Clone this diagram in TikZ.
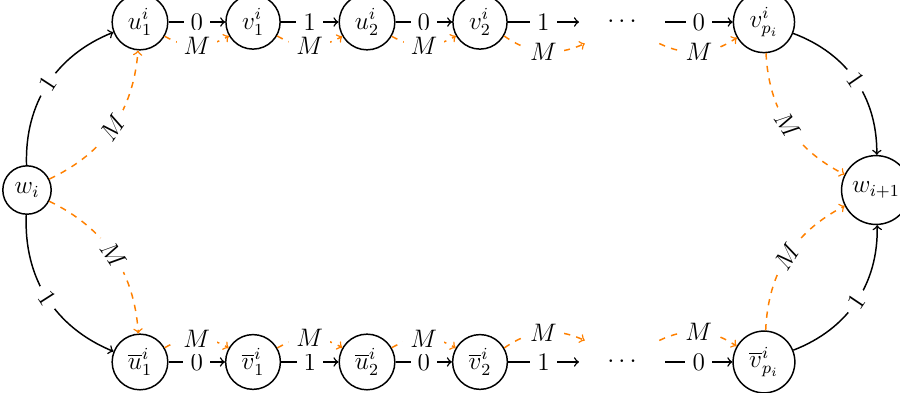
\documentclass[tikz,border=0pt]{standalone}
\begin{document}
\begin{tikzpicture}[
  font=\fontsize{11.5}{14}\selectfont,
  vtx/.style={circle,draw,line width=0.7pt},
  dotsnode/.style={circle,minimum size=1.42cm,inner sep=0pt},
  edge/.style={line width=0.7pt,->},
  mdash/.style={line width=0.7pt,->,orange,dashed},
  lab/.style={fill=white,text=black},
]
\useasboundingbox (0,0) rectangle (15,6.55);
% top row
\node[vtx] (wi) at (0.45,3.383) {$w_i$};
\node[vtx] (wn) at (14.6,3.383) {$w_{i+1}$};
\node[vtx] (u1) at (2.333,6.183) {$u_1^i$};
\node[vtx] (v1) at (4.217,6.183) {$v_1^i$};
\node[vtx] (u2) at (6.117,6.183) {$u_2^i$};
\node[vtx] (v2) at (8.0,6.183) {$v_2^i$};
\node[dotsnode] (dt) at (10.367,6.183) {$\cdots$};
\node[vtx] (vp) at (12.733,6.183) {$v_{p_i}^i$};
% bottom row
\node[vtx] (bu1) at (2.333,0.517) {$\overline{u}_1^i$};
\node[vtx] (bv1) at (4.217,0.517) {$\overline{v}_1^i$};
\node[vtx] (bu2) at (6.117,0.517) {$\overline{u}_2^i$};
\node[vtx] (bv2) at (8.0,0.517) {$\overline{v}_2^i$};
\node[dotsnode] (db) at (10.367,0.517) {$\cdots$};
\node[vtx] (bvp) at (12.733,0.517) {$\overline{v}_{p_i}^i$};
% solid edges
\draw[edge] (u1) -- node[lab]{$0$} (v1);
\draw[edge] (v1) -- node[lab]{$1$} (u2);
\draw[edge] (u2) -- node[lab]{$0$} (v2);
\draw[edge] (v2) -- node[lab]{$1$} (dt);
\draw[edge] (dt) -- node[lab]{$0$} (vp);
\draw[edge] (bu1) -- node[lab]{$0$} (bv1);
\draw[edge] (bv1) -- node[lab]{$1$} (bu2);
\draw[edge] (bu2) -- node[lab]{$0$} (bv2);
\draw[edge] (bv2) -- node[lab]{$1$} (db);
\draw[edge] (db) -- node[lab]{$0$} (bvp);
\draw[edge] (wi) to[bend left=35] node[lab,sloped]{$1$} (u1);
\draw[edge] (wi) to[bend right=35] node[lab,sloped]{$1$} (bu1);
\draw[edge] (vp) to[bend left=35] node[lab,sloped]{$1$} (wn);
\draw[edge] (bvp) to[bend right=35] node[lab,sloped]{$1$} (wn);
% dashed edges
\draw[mdash] (wi) to[bend right=30] node[lab,sloped]{$M$} (u1);
\draw[mdash] (wi) to[bend left=30] node[lab,sloped]{$M$} (bu1);
\draw[mdash] (vp) to[bend right=30] node[lab,sloped]{$M$} (wn);
\draw[mdash] (bvp) to[bend left=30] node[lab,sloped]{$M$} (wn);
\draw[mdash] (u1) to[bend right=30] node[lab]{$M$} (v1);
\draw[mdash] (v1) to[bend right=30] node[lab]{$M$} (u2);
\draw[mdash] (u2) to[bend right=30] node[lab]{$M$} (v2);
\draw[mdash] (v2) to[bend right=30] node[lab]{$M$} (dt);
\draw[mdash] (dt) to[bend right=30] node[lab]{$M$} (vp);
\draw[mdash] (bu1) to[bend left=30] node[lab]{$M$} (bv1);
\draw[mdash] (bv1) to[bend left=30] node[lab]{$M$} (bu2);
\draw[mdash] (bu2) to[bend left=30] node[lab]{$M$} (bv2);
\draw[mdash] (bv2) to[bend left=30] node[lab]{$M$} (db);
\draw[mdash] (db) to[bend left=30] node[lab]{$M$} (bvp);
\end{tikzpicture}
\end{document}
